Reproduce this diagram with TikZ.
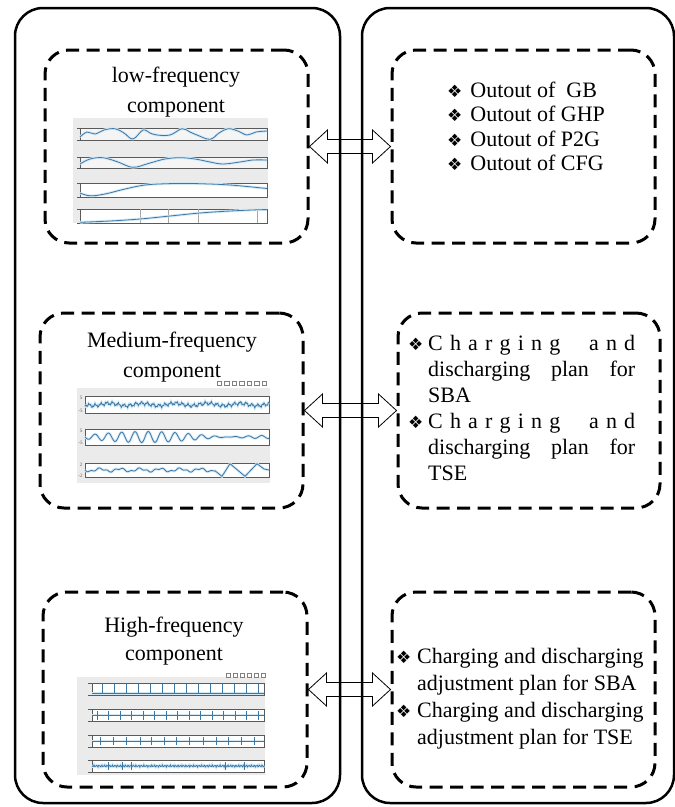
\documentclass[tikz,border=0pt]{standalone}
\usepackage{fontspec}
\setmainfont{Liberation Serif}
\newfontfamily\symfont{DejaVu Sans}
\usetikzlibrary{calc}

\definecolor{curveblue}{HTML}{3B78A8}
\definecolor{haloblue}{HTML}{D3E8F5}
\definecolor{plotgray}{HTML}{EBEBEB}
\definecolor{axisgray}{HTML}{5A5A5A}

\newcommand{\bul}{{\symfont\fontsize{17}{17}\selectfont\char"2756}}

\tikzset{
  outerbox/.style={draw, line width=2.5pt, rounded corners=28pt, inner sep=0pt},
  dashbox/.style={draw, line width=3pt, dash pattern=on 13pt off 7.5pt,
                  rounded corners=24pt, inner sep=0pt},
  blockarrow/.style={draw, line width=0.8pt, line join=miter},
  title/.style={align=center, inner sep=0pt},
  plotbg/.style={fill=plotgray, draw=none},
  panel/.style={draw=axisgray, line width=0.9pt},
  curve/.style={draw=curveblue, line width=0.8pt,
                preaction={draw=haloblue, line width=2.6pt}},
  spike/.style={draw=curveblue, line width=0.7pt},
  ticklab/.style={font=\fontsize{5}{5}\selectfont, text=axisgray, inner sep=0pt},
  toolicon/.style={draw=gray, line width=0.4pt}
}

\begin{document}
\begin{tikzpicture}[x=1pt, y=-1pt]
\useasboundingbox (0,0) rectangle (675,807);

% two outer panels
\node[outerbox, minimum width=325pt, minimum height=795pt] (leftpanel) at (177.5,405.5) {};
\node[outerbox, minimum width=312pt, minimum height=795pt] (rightpanel) at (518,405.5) {};

% dashed groups
\node[dashbox, minimum width=263pt, minimum height=193pt] (l1) at (176.5,146.5) {};
\node[dashbox, minimum width=263pt, minimum height=193pt] (r1) at (523.5,146.5) {};
\node[dashbox, minimum width=263pt, minimum height=195pt] (l2) at (171.5,410.5) {};
\node[dashbox, minimum width=262pt, minimum height=195pt] (r2) at (529,410.5) {};
\node[dashbox, minimum width=264pt, minimum height=195pt] (l3) at (175,689.5) {};
\node[dashbox, minimum width=263pt, minimum height=195pt] (r3) at (523.5,689.5) {};

% hollow double arrows between the groups
\foreach \a/\b in {l1/r1, l2/r2, l3/r3}{
  \draw[blockarrow] let \p1=(\a.east), \p2=(\b.west) in
    (\x1,\y1) -- ++(18pt,16.5pt) -- ++(0,-9.5pt) -- (\x2-18pt,\y1+7pt)
    -- ++(0,9.5pt) -- (\x2,\y1) -- ++(-18pt,-16.5pt) -- ++(0,9.5pt)
    -- (\x1+18pt,\y1-7pt) -- ++(0,-9.5pt) -- cycle;
}

% titles of the left groups
\node[title, font=\fontsize{22}{30}\selectfont] (t1) at (176,92) {low-frequency\\component};
\node[title, font=\fontsize{22}{30}\selectfont] (t2) at (172,357) {Medium-frequency\\component};
\node[title, font=\fontsize{22}{28}\selectfont] (t3) at (174,641) {High-frequency\\component};

% ---------- low-frequency plot ----------
\fill[plotgray] (73,118) rectangle (268,223);
\filldraw[panel, fill=gray!8] (80,128) rectangle (267,140);
\filldraw[panel, fill=gray!8] (80,157) rectangle (267,168);
\filldraw[panel, fill=white] (80,183) rectangle (267,197);
\filldraw[panel, fill=white] (80,209) rectangle (267,223);
\foreach \gx in {140,168,198,257}
  \draw[gray!70, line width=0.4pt] (\gx,209) -- (\gx,223);
\draw[curve] plot[smooth, tension=0.6] coordinates {(80,137) (87,132) (95,134) (104,130)
  (115,128.7) (124,133) (133,139) (143,130) (150,133) (157,135) (170,135) (182,128.7)
  (190,132) (197,135) (210,139.3) (219,133) (228,128.7) (238,131) (247,135) (256,132) (267,131)};
\draw[curve] plot[smooth, tension=0.6] coordinates {(80,164) (90,159) (103,157.7) (118,162)
  (133,167.3) (150,163) (165,159) (180,157.7) (195,159) (210,162) (223,164) (240,162)
  (253,160) (267,160)};
\draw[curve] plot[smooth, tension=0.6] coordinates {(80,193) (90,195.8) (105,194) (125,189)
  (145,185) (167,183.7) (185,183.5) (200,183.7) (230,185) (267,188.5)};
\draw[curve] plot[smooth, tension=0.6] coordinates {(80,222.3) (110,221) (140,219) (170,216)
  (200,213) (230,211) (260,209.7) (267,209.7)};
\foreach \py in {128,140,157,168,183,197,209,223}
  \draw[axisgray, line width=0.4pt] (77,\py) -- (80,\py);

% ---------- medium-frequency plot ----------
\fill[plotgray] (77,388) rectangle (270,483);
\foreach \i in {0,...,6}
  \draw[toolicon] (217+7.5*\i,381) rectangle ++(4.5,4.5);
\filldraw[panel, fill=white] (85,396) rectangle (269,413);
\filldraw[panel, fill=white] (85,429) rectangle (269,445);
\filldraw[panel, fill=white] (85,463) rectangle (269,477);
\draw[curve] plot[domain=0:184, samples=260]
  ({85+\x}, {404.5 + 1.3*sin(62*\x) + 0.9*sin(10*mod(17*\x,36)+30) + 1.2*sin(11*\x)});
\draw[curve] plot[domain=0:184, samples=300]
  ({85+\x}, {437 + (2+3.5*sin(1.5*\x))*sin(27*\x)});
\draw[curve] plot[domain=0:130, samples=150]
  ({85+\x}, {470 + 1.4*sin(18*\x) + 0.8*sin(45*\x)})
  -- (222,476.3) -- (230,463.7) -- (245,476.3) -- (257,463.7) -- (264,469) -- (269,470);
\node[ticklab] (m1a) at (81,398) {5};
\node[ticklab] (m1b) at (80.5,411) {-5};
\node[ticklab] (m2a) at (81,431) {5};
\node[ticklab] (m2b) at (80.5,443) {-5};
\node[ticklab] (m3a) at (81,465) {2};
\node[ticklab] (m3b) at (80.5,476) {-2};

% ---------- high-frequency plot ----------
\fill[plotgray] (77,677) rectangle (265,775);
\foreach \i in {0,...,5}
  \draw[toolicon] (226+7*\i,673) rectangle ++(4,4);
\filldraw[panel, fill=white] (92,683) rectangle (264,695);
\filldraw[panel, fill=white] (92,709) rectangle (264,721);
\filldraw[panel, fill=white] (92,735) rectangle (264,747);
\filldraw[panel, fill=white] (92,760) rectangle (264,772);
% panel 1: spikes up from a low baseline
\draw[curve] (92,693.5) -- (264,693.5);
\foreach \i in {0,...,13}
  \draw[spike] (102+12*\i,693.5) -- (102+12*\i,684);
% panel 2: spikes around a middle baseline
\draw[curve] (92,715) -- (264,715);
\foreach \i in {0,...,14}
  \draw[spike] (97+11.5*\i,711) -- (97+11.5*\i,720);
% panel 3: small spikes
\draw[curve] (92,741) -- (264,741);
\foreach \sx in {100,113,126,140,151,164,176,189,203,216,228,241,254}
  \draw[spike] (\sx,737) -- (\sx,745);
% panel 4: noisy baseline with a few spikes
\draw[curve] plot[domain=0:172, samples=260]
  ({92+\x}, {766 + 0.7*sin(10*mod(13.7*\x,36)) + 0.4*sin(10*mod(31.1*\x,36))});
\foreach \sx in {108,122,131,225,244}
  \draw[spike] (\sx,762) -- (\sx,770);
\foreach \py in {683,695,709,721,735,747,760,772}
  \draw[axisgray, line width=0.4pt] (88,\py) -- (92,\py);

% ---------- right-hand texts ----------
\node[anchor=west, align=left, inner sep=0pt, font=\fontsize{22}{24.5}\selectfont] (o1) at (447,126.5)
  {\bul\hspace{8pt}Outout of~~GB\\
   \bul\hspace{8pt}Outout of GHP\\
   \bul\hspace{8pt}Outout of P2G\\
   \bul\hspace{8pt}Outout of CFG};

\node[anchor=west, align=left, inner sep=0pt, font=\fontsize{22}{26}\selectfont] (o2) at (408,408)
  {\makebox[20pt][l]{\bul}\makebox[207pt][s]{C\hfill h\hfill a\hfill r\hfill g\hfill i\hfill n\hfill g\hfill\hfill\hfill\hfill a\hfill n\hfill d}\\
   \hspace*{20pt}\makebox[207pt][s]{discharging plan for}\\
   \hspace*{20pt}SBA\\
   \makebox[20pt][l]{\bul}\makebox[207pt][s]{C\hfill h\hfill a\hfill r\hfill g\hfill i\hfill n\hfill g\hfill\hfill\hfill\hfill a\hfill n\hfill d}\\
   \hspace*{20pt}\makebox[207pt][s]{discharging plan for}\\
   \hspace*{20pt}TSE};

\node[anchor=west, align=left, inner sep=0pt, font=\fontsize{22}{27}\selectfont] (o3) at (396,699)
  {\makebox[21pt][l]{\bul}Charging and discharging\\
   \hspace*{21pt}adjustment plan for SBA\\
   \makebox[21pt][l]{\bul}Charging and discharging\\
   \hspace*{21pt}adjustment plan for TSE};

\end{tikzpicture}
\end{document}
